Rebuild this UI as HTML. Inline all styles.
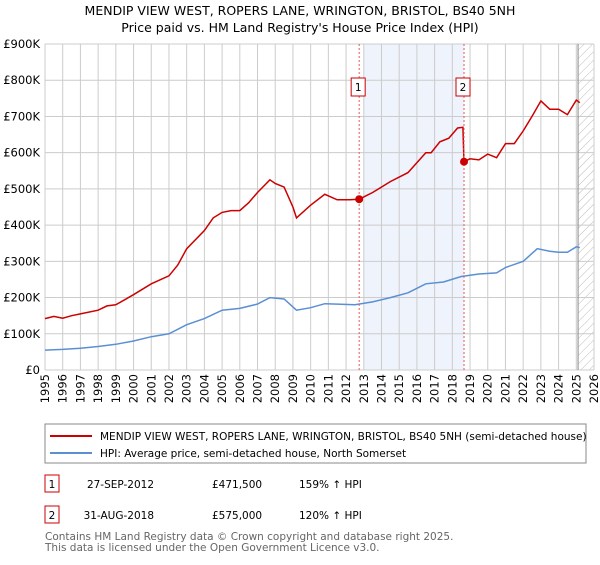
<!DOCTYPE html>
<html><head><meta charset="utf-8"><style>
body{margin:0;background:#fff;font-family:"Liberation Sans","DejaVu Sans",sans-serif;}
svg text{font-family:"DejaVu Sans","Liberation Sans",sans-serif;}
</style></head><body>
<svg id="c" width="600" height="560" viewBox="0 0 600 560" xmlns="http://www.w3.org/2000/svg">
<defs><pattern id="hatch" width="6" height="6" patternUnits="userSpaceOnUse" patternTransform="rotate(45)"><line x1="0" y1="0" x2="0" y2="6" stroke="#bbb" stroke-width="1"/></pattern></defs>
<text x="300" y="15" text-anchor="middle" font-size="12.5">MENDIP VIEW WEST, ROPERS LANE, WRINGTON, BRISTOL, BS40 5NH</text>
<text x="300" y="32" text-anchor="middle" font-size="12.5">Price paid vs. HM Land Registry's House Price Index (HPI)</text>
<g id="grid"></g><g id="series"></g>
<rect x="45" y="424" width="541" height="39" fill="#fff" stroke="#888"/>
<line x1="50" y1="436" x2="92" y2="436" stroke="#cc0000" stroke-width="2"/>
<text x="100" y="440" font-size="10.5">MENDIP VIEW WEST, ROPERS LANE, WRINGTON, BRISTOL, BS40 5NH (semi-detached house)</text>
<line x1="50" y1="453" x2="92" y2="453" stroke="#5b8fd4" stroke-width="2"/>
<text x="100" y="457" font-size="10.5">HPI: Average price, semi-detached house, North Somerset</text>
<g>
<rect x="45" y="475" width="14" height="17" fill="#fff" stroke="#cc0000"/><text x="52" y="488" text-anchor="middle" font-size="10.5">1</text>
<text x="154" y="488" text-anchor="end" font-size="10.5">27-SEP-2012</text>
<text x="212" y="488" font-size="10.5">£471,500</text>
<text x="299" y="488" font-size="10.5">159% ↑ HPI</text></g>
<g>
<rect x="45" y="506" width="14" height="17" fill="#fff" stroke="#cc0000"/><text x="52" y="519" text-anchor="middle" font-size="10.5">2</text>
<text x="154" y="519" text-anchor="end" font-size="10.5">31-AUG-2018</text>
<text x="212" y="519" font-size="10.5">£575,000</text>
<text x="299" y="519" font-size="10.5">120% ↑ HPI</text></g>
<text x="45" y="540" font-size="10.5" fill="#666">Contains HM Land Registry data © Crown copyright and database right 2025.</text>
<text x="45" y="551" font-size="10.5" fill="#666">This data is licensed under the Open Government Licence v3.0.</text>
</svg>
<script>
const redT=[1995,1995.5,1996,1996.5,1997,1998,1998.5,1999,2000,2001,2002,2002.5,2003,2004,2004.5,2005,2005.5,2006,2006.5,2007,2007.7,2008,2008.5,2009,2009.2,2010,2010.8,2011.5,2012.2,2012.74,2013.5,2014.5,2015.5,2016.5,2016.8,2017.3,2017.8,2018.3,2018.6,2018.66,2019,2019.5,2020,2020.5,2021,2021.5,2022,2022.5,2023,2023.5,2024,2024.5,2025,2025.2];
const redV=[142,148,143,150,155,165,177,180,208,238,260,290,335,385,420,435,440,440,462,490,525,515,505,450,420,455,485,470,470,471.5,490,520,545,600,600,630,640,668,670,575,583,580,596,586,625,625,660,700,743,720,720,705,745,738];
const hpiT=[1995,1996,1997,1998,1999,2000,2001,2002,2003,2004,2005,2006,2007,2007.7,2008.5,2009.2,2010,2010.8,2011.5,2012.5,2013.5,2014.5,2015.5,2016.5,2017.5,2018.5,2019.5,2020.5,2021,2022,2022.8,2023.5,2024,2024.5,2025,2025.2];
const hpiV=[55,57,60,65,71,80,92,100,125,142,165,170,182,200,196,165,172,183,182,180,188,200,213,238,243,258,265,268,283,300,335,328,325,325,340,338];
const saleT=[2012.74,2018.66];
const saleV=[471.5,575];
const yTicks=[0,100,200,300,400,500,600,700,800,900];
const yLabels=["£0","£100K","£200K","£300K","£400K","£500K","£600K","£700K","£800K","£900K"];
const years=[];for(let y=1995;y<=2026;y++)years.push(y);
const X0=45,X1=594,Y0=370,Y1=44;
const sx=t=>X0+(t-1995)*(X1-X0)/31, sy=v=>Y0-v*(Y0-Y1)/900;
const NS="http://www.w3.org/2000/svg";
function mk(tag,at,parent){const e=document.createElementNS(NS,tag);for(const k in at)e.setAttribute(k,at[k]);parent.appendChild(e);return e;}
const g=document.getElementById('grid'), s=document.getElementById('series');
let r=mk('rect',{x:sx(2013),y:Y1,width:sx(2018.66)-sx(2013),height:Y0-Y1,fill:'#eef3fc'},g);


r=mk('rect',{x:sx(2025.1),y:Y1,width:X1-sx(2025.1),height:Y0-Y1,fill:'url(#hatch)'},g);


yTicks.forEach((v,i)=>{const l=mk('line',{x1:X0,x2:X1,y1:sy(v),y2:sy(v),stroke:'#ccc'},g);


const t=mk('text',{x:40,y:sy(v)+4,'text-anchor':'end','font-size':'11.5'},g);t.textContent=yLabels[i];

});
years.forEach(y=>{const l=mk('line',{x1:sx(y),x2:sx(y),y1:Y1,y2:Y0,stroke:'#ccc'},g);


const t=mk('text',{x:0,y:0,'text-anchor':'end','font-size':'11.5',transform:`translate(${sx(y)+4},374) rotate(-90)`},g);t.textContent=y;

});
let vl=mk('line',{x1:sx(2025.1),x2:sx(2025.1),y1:Y1,y2:Y0,stroke:'#888'},g);


function path(T,V,c,name){const p=mk('path',{d:T.map((t,i)=>(i?'L':'M')+sx(t).toFixed(1)+','+sy(V[i]).toFixed(1)).join(''),fill:'none',stroke:c,'stroke-width':1.5},s);

}
path(hpiT,hpiV,'#5b8fd4','hpi-line');
path(redT,redV,'#cc0000','property-price-line');
saleT.forEach((t,i)=>{const l=mk('line',{x1:sx(t),x2:sx(t),y1:Y1,y2:Y0,stroke:'#e55','stroke-dasharray':'2,2'},s);


const c=mk('circle',{cx:sx(t),cy:sy(saleV[i]),r:4,fill:'#cc0000'},s);


const b=mk('rect',{x:sx(t)-8,y:78,width:14,height:18,fill:'#fff',stroke:'#cc0000'},s);


const tx=mk('text',{x:sx(t)-1,y:91,'text-anchor':'middle','font-size':'10.5'},s);tx.textContent=String(i+1);

});
</script>
</body></html>
